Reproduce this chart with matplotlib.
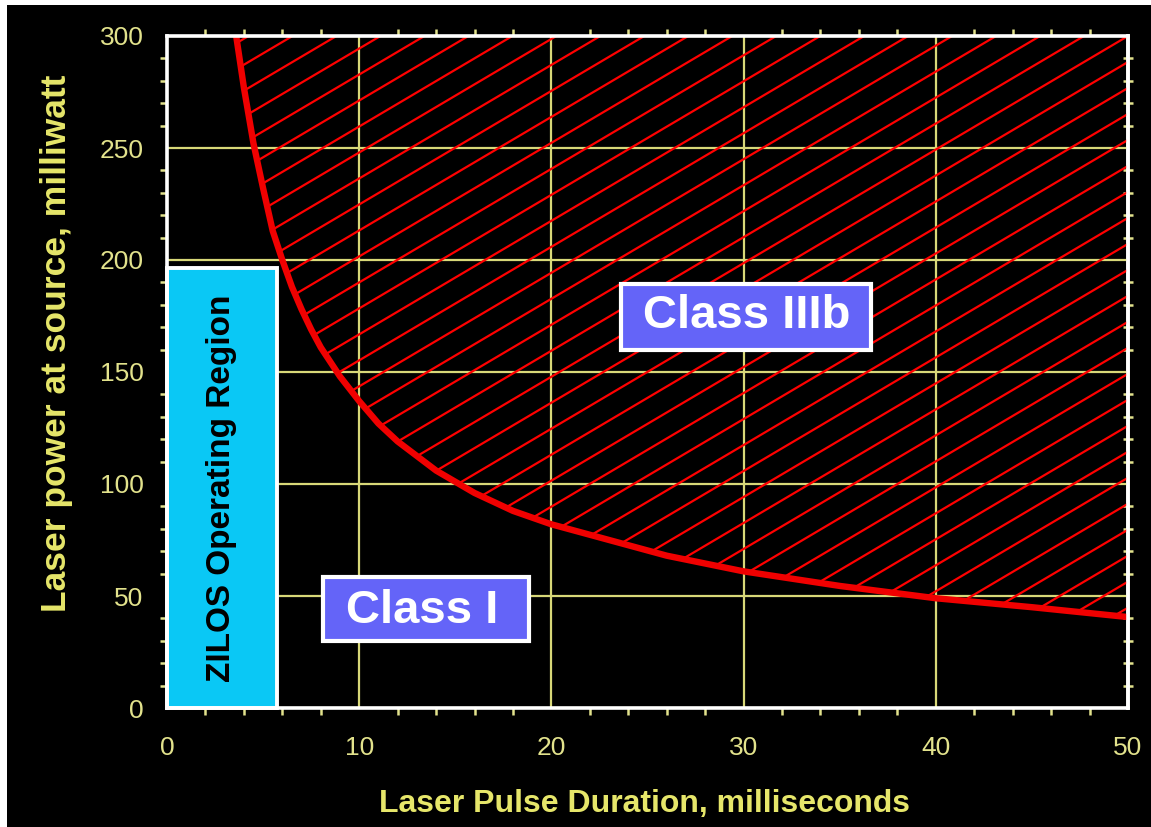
import matplotlib
matplotlib.use('Agg')
import matplotlib.pyplot as plt
from matplotlib.patches import Rectangle, Polygon
from matplotlib.ticker import MultipleLocator, FixedLocator

# ---- data ----
duration_ms = [3.6, 4.0, 4.5, 5.0, 5.5, 6.0, 6.5, 7.0, 7.5, 8.0, 9.0, 10.0, 11.0, 12.0,
               14.0, 16.0, 18.0, 20.0, 23.0, 26.0, 30.0, 35.0, 40.0, 45.0, 50.0]
power_mw = [300, 277, 252, 232, 213, 200, 188, 178, 169, 161, 148, 137, 127, 119,
            106, 96, 88, 82, 75, 68, 61, 54.5, 49, 45, 40.6]
x_ticks = [0, 10, 20, 30, 40, 50]
y_ticks = [0, 50, 100, 150, 200, 250, 300]
x_label = 'Laser Pulse Duration, milliseconds'
y_label = 'Laser power at source, milliwatt'
zilos_label = 'ZILOS Operating Region'
class1_label = 'Class I'
class3_label = 'Class IIIb'

plt.rcParams['font.family'] = ['Liberation Sans', 'DejaVu Sans']

YEL_TXT = '#E2E28C'
YEL_LAB = '#E6E66A'
YEL_GRID = '#D8D878'
RED = '#F00000'

W, H = 1151, 827
fig = plt.figure(figsize=(W / 100, H / 100), dpi=100, facecolor='white')
fig.patches.append(Rectangle((7 / W, 0), 1, 1 - 5 / H, transform=fig.transFigure,
                             facecolor='black', edgecolor='none', zorder=-10))

ax = fig.add_axes([167 / W, 1 - 708 / H, 961 / W, 672 / H])
ax.set_facecolor('black')
ax.set_xlim(x_ticks[0], x_ticks[-1])
ax.set_ylim(y_ticks[0], y_ticks[-1])

ax.xaxis.set_major_locator(FixedLocator(x_ticks))
ax.yaxis.set_major_locator(FixedLocator(y_ticks))
ax.xaxis.set_minor_locator(MultipleLocator(2))
ax.yaxis.set_minor_locator(MultipleLocator(10))

ax.grid(True, which='major', color=YEL_GRID, lw=1.6, zorder=0)
ax.set_axisbelow(True)

for sp in ax.spines.values():
    sp.set_color('white')
    sp.set_linewidth(2.6)
    sp.set_zorder(6)

ax.tick_params(axis='x', which='major', length=0, pad=20, labelsize=19, labelcolor=YEL_TXT)
ax.tick_params(axis='x', which='minor', length=5, width=1.8, color=YEL_TXT,
               direction='out', top=True, bottom=True)
ax.tick_params(axis='y', which='major', length=0, pad=17, labelsize=19, labelcolor=YEL_TXT)
ax.tick_params(axis='y', which='minor', length=5, width=1.8, color=YEL_TXT,
               direction='out', left=True, right=False)

sec = ax.secondary_yaxis('right')
sec.yaxis.set_major_locator(FixedLocator(y_ticks))
sec.yaxis.set_minor_locator(MultipleLocator(10))
sec.tick_params(which='major', length=0, labelright=False)
sec.tick_params(which='minor', length=7, width=1.8, color=YEL_TXT, direction='inout')
sec.spines['right'].set_color('white')
sec.spines['right'].set_linewidth(2.6)

# hatched Class IIIb region above the curve
verts = list(zip(duration_ms, power_mw)) + [(x_ticks[-1], y_ticks[-1]), (duration_ms[0], y_ticks[-1])]
clip = Polygon(verts, closed=True, transform=ax.transData, facecolor='none', edgecolor='none')
ax.add_patch(clip)
slope = 5.07
step = 11.6
c0 = y_ticks[-1] - slope * x_ticks[-1]
for k in range(-24, 24):
    c = c0 + step * k
    ln, = ax.plot([0, 50], [c, c + slope * 50], color='#FF0000', lw=1.6, zorder=2)
    ln.set_clip_path(clip)

ax.plot(duration_ms, power_mw, color=RED, lw=4.6, zorder=4, solid_capstyle='butt')

# annotation boxes
ax.add_patch(Rectangle((0, 0), 5.74, 196.6, facecolor='#0AC8F5', edgecolor='white',
                       lw=2.8, zorder=5, clip_on=False))
ax.text(2.85, 98, zilos_label, rotation=90, ha='center', va='center', fontsize=24,
        fontweight='bold', color='black', zorder=7)

ax.add_patch(Rectangle((8.1, 29.9), 10.75, 28.6, facecolor='#6464F8', edgecolor='white',
                       lw=3, zorder=5))
ax.text(13.3, 43.5, class1_label, ha='center', va='center', fontsize=34,
        fontweight='bold', color='white', zorder=7)

ax.add_patch(Rectangle((23.6, 160), 13.05, 29.3, facecolor='#6464F8', edgecolor='white',
                       lw=3, zorder=5))
ax.text(30.17, 174.8, class3_label, ha='center', va='center', fontsize=34,
        fontweight='bold', color='white', zorder=7)

ax.set_xlabel(x_label, fontsize=23, fontweight='bold', color=YEL_LAB)
ax.xaxis.set_label_coords(0.497, -0.121)
ax.set_ylabel(y_label, fontsize=25.5, fontweight='bold', color=YEL_LAB)
ax.yaxis.set_label_coords(-0.098, 0.542)

fig.savefig('out.png', dpi=100, facecolor=fig.get_facecolor())
